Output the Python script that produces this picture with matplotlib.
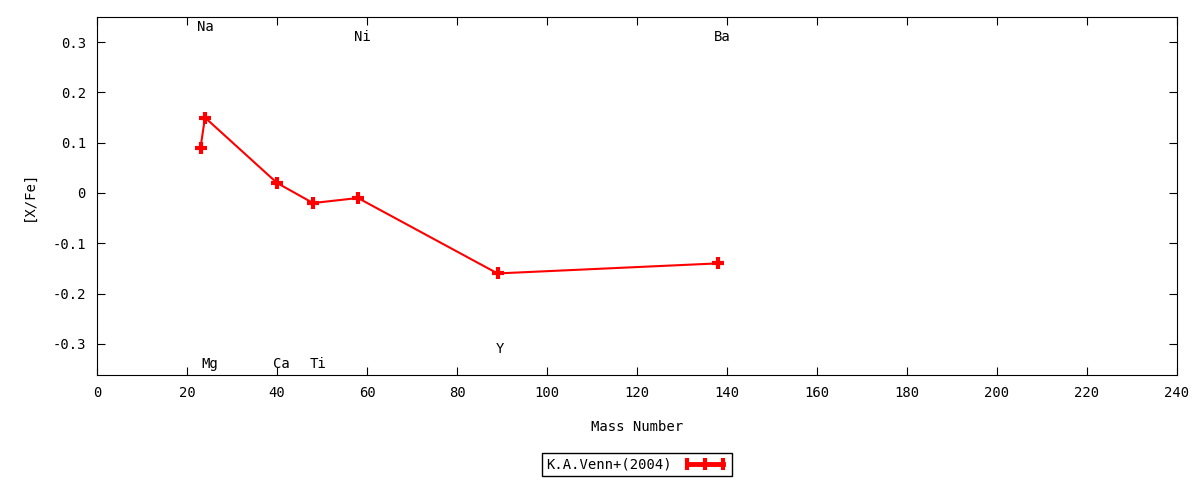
import matplotlib
matplotlib.use('Agg')
import matplotlib.pyplot as plt
from matplotlib.lines import Line2D

# abundance pattern, K.A.Venn+(2004)
elements = ['Na', 'Mg', 'Ca', 'Ti', 'Ni', 'Y', 'Ba']
mass = [23, 24, 40, 48, 58, 89, 138]
xfe = [0.09, 0.15, 0.02, -0.02, -0.01, -0.16, -0.14]

# element name positions (x, y) in data units
label_x = [24, 25, 41, 49, 59, 89.5, 139]
label_y = [0.33, -0.34, -0.34, -0.34, 0.31, -0.31, 0.31]

plt.rcParams['font.family'] = 'DejaVu Sans Mono'
plt.rcParams['font.size'] = 10

fig = plt.figure(figsize=(12, 4.8), dpi=100)
ax = fig.add_axes([97 / 1200, 1 - 375 / 480, 1080 / 1200, 358 / 480])

ax.plot(mass, xfe, color='red', lw=1.5, marker='+', ms=9, mew=3)

for name, lx, ly in zip(elements, label_x, label_y):
    ax.text(lx, ly, name, ha='center', va='center')

ax.set_xlim(0, 240)
ax.set_ylim(-0.362, 0.35)
ax.set_xticks(range(0, 241, 20))
ax.set_yticks([-0.3, -0.2, -0.1, 0, 0.1, 0.2, 0.3])
ax.set_yticklabels(['-0.3', '-0.2', '-0.1', '0', '0.1', '0.2', '0.3'])
ax.tick_params(direction='in', top=True, right=True, length=6, pad=8)
ax.set_xlabel('Mass Number', labelpad=14)
ax.set_ylabel('[X/Fe]', labelpad=12)

# gnuplot-like key sample: thick line with bars
key = Line2D([], [], color='red', lw=3.5, marker='|', ms=8, mew=3)
ax.legend([key], ['K.A.Venn+(2004)'], loc='center',
          bbox_to_anchor=(0.5, -0.25), markerfirst=False,
          numpoints=3, handlelength=3.2, frameon=True, fancybox=False,
          edgecolor='black', framealpha=1, borderpad=0.3)

fig.savefig('out.png', dpi=100)
